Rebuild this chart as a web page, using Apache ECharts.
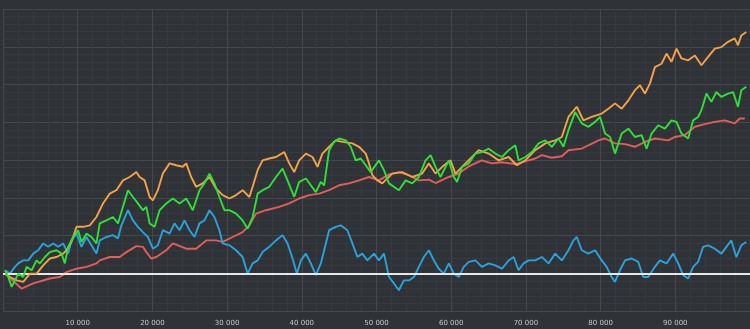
<!DOCTYPE html>
<html>
<head>
<meta charset="utf-8">
<script src="https://cdn.jsdelivr.net/npm/echarts@6/dist/echarts.min.js"></script>
<style>
html,body{margin:0;padding:0;background:#2f3236;}
#c{width:750px;height:329px;}
</style>
</head>
<body>
<div id="c"></div>
<script>
// x in thousands of samples, y in grid units
const xTicks = [10, 20, 30, 40, 50, 60, 70, 80, 90];

const redPts = [[0.27,-0.01],[2.50,-0.41],[4.05,-0.27],[6.27,-0.14],[7.61,-0.10],[8.50,0.03],[9.84,0.12],[11.17,0.17],[12.51,0.26],[12.95,0.34],[14.29,0.43],[15.62,0.43],[16.52,0.56],[17.85,0.72],[18.73,0.70],[19.19,0.56],[19.85,0.39],[20.52,0.43],[21.86,0.61],[22.74,0.79],[24.53,0.65],[25.86,0.65],[27.20,0.87],[28.53,0.87],[29.41,0.83],[30.75,0.96],[32.08,1.09],[32.98,1.27],[33.87,1.58],[35.21,1.67],[36.98,1.76],[38.32,1.85],[39.65,1.98],[40.99,2.07],[42.32,2.11],[43.66,2.20],[44.99,2.33],[46.33,2.38],[47.66,2.46],[49.00,2.55],[50.33,2.46],[51.67,2.62],[53.00,2.68],[54.34,2.60],[55.67,2.46],[57.01,2.48],[57.90,2.39],[59.68,2.55],[61.01,2.64],[62.35,2.83],[64.08,2.99],[65.42,2.91],[66.76,2.94],[68.58,2.89],[70.36,2.99],[71.25,3.04],[72.14,3.13],[73.47,3.06],[74.81,3.10],[75.70,3.26],[77.48,3.30],[78.37,3.39],[79.71,3.52],[80.60,3.57],[81.93,3.44],[83.27,3.42],[84.60,3.35],[85.94,3.48],[87.27,3.57],[89.05,3.52],[89.95,3.61],[91.28,3.66],[92.62,3.88],[93.95,3.95],[95.29,4.01],[96.62,4.05],[97.96,3.97],[98.62,4.10],[99.29,4.10]];

const bluePts = [[0.27,0.08],[0.93,-0.01],[1.60,0.17],[2.04,0.26],[2.71,0.34],[3.38,0.34],[4.05,0.52],[4.71,0.61],[5.38,0.79],[6.05,0.70],[6.72,0.79],[7.38,0.70],[8.05,0.79],[8.72,0.52],[9.17,0.87],[9.84,1.05],[10.51,0.70],[11.17,0.96],[11.84,0.74],[12.51,0.52],[12.95,0.87],[13.84,0.96],[14.73,1.01],[15.39,0.92],[15.85,1.27],[16.73,1.67],[17.40,1.40],[18.06,1.23],[18.73,1.09],[19.40,0.96],[20.07,0.65],[20.73,0.74],[21.40,1.14],[22.30,1.05],[22.96,1.32],[23.63,1.14],[24.30,1.40],[24.97,1.14],[25.63,0.96],[26.30,1.32],[26.97,1.40],[27.64,1.67],[28.30,1.49],[28.97,1.14],[29.41,0.79],[30.31,0.74],[31.20,0.61],[32.08,0.43],[32.75,-0.01],[33.42,0.26],[34.09,0.34],[34.75,0.56],[35.65,0.70],[36.54,0.87],[37.42,1.01],[38.09,0.79],[38.76,0.39],[39.34,-0.01],[39.88,0.34],[40.55,0.52],[41.21,0.26],[41.88,-0.05],[42.55,0.26],[43.22,0.79],[43.66,1.14],[44.55,1.23],[45.22,1.27],[46.10,1.14],[46.77,0.79],[47.44,0.43],[48.10,0.52],[48.77,0.34],[49.67,0.52],[50.33,0.34],[51.00,0.52],[51.67,-0.10],[52.34,-0.27],[53.00,-0.45],[53.67,-0.19],[54.34,-0.19],[55.01,-0.10],[55.67,0.17],[56.34,0.43],[57.01,0.61],[57.68,0.34],[58.34,0.12],[59.01,-0.01],[59.68,0.26],[60.35,-0.01],[61.01,-0.10],[61.68,0.17],[62.35,0.30],[63.24,0.34],[64.12,0.17],[65.02,0.26],[65.91,0.21],[66.80,0.12],[67.69,0.34],[68.36,0.43],[69.02,0.08],[69.69,0.26],[70.36,0.34],[71.25,0.34],[72.14,0.43],[73.03,0.26],[73.92,0.52],[74.81,0.34],[75.70,0.61],[76.37,0.87],[76.81,0.96],[77.48,0.61],[78.37,0.52],[79.26,0.61],[80.15,0.34],[80.81,0.17],[81.48,-0.10],[81.93,-0.23],[82.60,0.08],[83.27,0.34],[84.15,0.39],[85.04,0.30],[85.71,-0.10],[86.38,-0.10],[87.27,0.17],[87.94,0.34],[88.82,0.26],[89.72,0.52],[90.39,0.26],[91.05,-0.05],[91.72,-0.14],[92.39,0.17],[93.05,0.30],[93.72,0.70],[94.39,0.74],[95.29,0.65],[96.17,0.52],[96.84,0.70],[97.50,0.87],[98.17,0.43],[98.84,0.74],[99.50,0.83]];

const orangePts = [[0.27,-0.01],[0.93,-0.10],[1.83,-0.19],[2.71,-0.23],[3.60,-0.01],[4.50,-0.01],[5.38,0.21],[6.27,0.39],[7.17,0.43],[8.05,0.52],[8.50,0.61],[9.17,0.83],[9.84,1.23],[10.72,1.23],[11.62,1.27],[12.51,1.49],[13.39,1.85],[14.29,2.11],[15.18,2.20],[16.06,2.46],[16.96,2.55],[17.85,2.68],[18.29,2.55],[18.96,2.46],[19.63,2.02],[20.07,1.93],[20.73,2.20],[21.40,2.64],[22.30,2.91],[23.19,2.86],[24.07,2.82],[24.53,2.91],[25.19,2.55],[25.86,2.29],[26.74,2.38],[27.64,2.55],[28.53,2.24],[29.41,2.07],[30.31,1.98],[31.20,2.07],[32.08,2.20],[32.98,2.02],[33.42,2.29],[34.09,2.73],[34.75,2.99],[35.65,3.04],[36.54,3.08],[37.65,3.21],[38.32,2.91],[38.98,2.68],[39.65,2.99],[40.55,3.17],[41.43,3.08],[42.10,2.82],[42.76,3.17],[43.66,3.35],[44.55,3.52],[45.43,3.48],[46.77,3.44],[47.66,3.35],[48.56,3.17],[49.00,2.91],[49.44,2.60],[50.11,2.46],[50.77,2.38],[52.11,2.64],[53.44,2.68],[54.78,2.55],[56.11,2.64],[57.01,2.91],[57.90,2.64],[58.79,2.82],[59.91,2.99],[60.57,2.64],[61.91,2.91],[62.79,3.08],[63.68,3.26],[65.02,3.17],[66.35,2.99],[67.69,3.08],[68.80,2.86],[69.92,2.99],[71.25,3.26],[72.59,3.44],[73.92,3.52],[74.81,3.61],[75.70,4.14],[76.81,4.41],[77.70,4.05],[78.81,4.14],[80.15,4.23],[81.04,4.36],[81.93,4.50],[82.82,4.36],[83.72,4.58],[84.60,4.85],[85.27,4.98],[85.94,4.76],[86.61,5.03],[87.27,5.46],[88.16,5.55],[88.82,5.82],[89.49,5.60],[90.16,5.95],[90.83,5.69],[91.72,5.64],[92.62,5.77],[93.50,5.51],[94.39,5.73],[95.29,5.95],[96.17,5.99],[97.06,6.13],[97.95,6.22],[98.39,6.04],[98.84,6.30],[99.50,6.39]];

const greenPts = [[0.27,0.08],[0.71,-0.10],[1.16,-0.36],[1.60,-0.19],[2.04,-0.01],[2.71,-0.10],[3.16,0.17],[3.83,0.08],[4.50,0.34],[4.94,0.26],[5.61,0.43],[6.27,0.56],[7.17,0.61],[7.84,0.52],[8.28,0.26],[8.72,0.70],[9.39,0.96],[10.05,1.14],[10.51,0.83],[11.17,1.05],[11.84,0.96],[12.51,0.79],[12.95,1.32],[13.84,1.40],[14.73,1.49],[15.39,1.32],[16.06,1.76],[16.73,2.20],[17.40,2.02],[18.06,1.85],[18.73,1.67],[19.19,1.76],[19.63,1.32],[20.29,1.23],[20.96,1.67],[21.86,1.85],[22.74,1.98],[23.63,1.85],[24.53,1.98],[25.41,1.67],[26.30,2.20],[26.97,2.38],[27.64,2.64],[28.30,2.38],[28.97,2.02],[29.64,1.67],[30.31,1.67],[31.20,1.58],[32.08,1.40],[32.75,1.18],[33.42,1.49],[34.09,2.11],[34.75,2.20],[35.65,2.29],[36.54,2.55],[37.42,2.77],[38.09,2.46],[38.98,2.02],[39.65,2.42],[40.55,2.51],[41.21,2.33],[41.88,2.15],[42.55,2.42],[42.99,2.33],[43.66,3.26],[44.32,3.48],[44.99,3.57],[45.89,3.52],[46.55,3.35],[47.22,2.99],[47.89,3.04],[48.56,2.86],[49.22,2.68],[50.33,2.99],[51.00,2.73],[51.67,2.38],[53.00,2.20],[53.90,2.46],[54.78,2.38],[55.67,2.55],[56.57,2.99],[57.24,3.13],[57.90,2.82],[58.57,2.55],[59.68,2.99],[60.35,2.55],[60.79,2.42],[61.46,2.82],[62.35,2.91],[63.24,3.17],[64.12,3.21],[65.02,3.30],[65.91,3.17],[66.80,3.08],[67.69,3.26],[68.58,3.39],[69.02,2.99],[69.92,3.08],[70.80,3.21],[71.70,3.44],[72.59,3.52],[73.47,3.35],[74.37,3.57],[75.03,3.35],[75.70,3.79],[76.59,4.27],[77.48,3.97],[78.37,3.88],[79.26,4.01],[79.93,4.14],[80.60,3.70],[81.27,3.61],[81.93,3.17],[82.82,3.70],[83.72,3.83],[84.60,3.61],[85.49,3.66],[86.16,3.30],[86.82,3.70],[87.72,3.92],[88.61,3.83],[89.49,4.05],[90.16,4.01],[90.83,3.70],[91.72,3.57],[92.39,4.05],[93.05,4.14],[93.50,4.32],[94.17,4.76],[94.83,4.54],[95.50,4.80],[96.17,4.67],[97.06,4.76],[97.73,4.80],[98.39,4.41],[98.84,4.85],[99.50,4.94]];

const seriesNames = ['Red', 'Blue', 'Orange', 'Green'];
const seriesColors = ['#e35d5d', '#2aa3dc', '#f3a24a', '#2fe03a'];
const seriesData = [redPts, bluePts, orangePts, greenPts];

function fmt(v) {
  return String(Math.round(v * 1000)).replace(/\B(?=(\d{3})+(?!\d))/g, ' ');
}

const chart = echarts.init(document.getElementById('c'), null, {renderer: 'canvas'});
const series = seriesData.map((d, i) => ({
  name: seriesNames[i],
  type: 'line',
  data: d,
  showSymbol: false,
  symbol: 'none',
  lineStyle: {color: seriesColors[i], width: 1.9},
  itemStyle: {color: seriesColors[i]},
  z: 3 + i,
  silent: true
}));
series.push({
  name: 'zero',
  type: 'line',
  data: [],
  z: 10,
  markLine: {
    silent: true,
    symbol: 'none',
    label: {show: false},
    lineStyle: {color: '#e8e8e8', width: 2, type: 'solid'},
    data: [{yAxis: 0}]
  }
});

chart.setOption({
  animation: false,
  backgroundColor: '#2f3236',
  grid: {left: 3, top: 9, width: 749, height: 302, containLabel: false},
  xAxis: {
    type: 'value',
    min: 0,
    max: 100,
    interval: 10,
    axisLine: {show: false},
    axisTick: {show: false},
    axisLabel: {
      show: true,
      color: '#c4c6c8',
      fontSize: 7,
      fontFamily: 'DejaVu Sans',
      margin: 9,
      showMinLabel: false,
      showMaxLabel: false,
      formatter: v => xTicks.indexOf(v) >= 0 ? fmt(v) : ''
    },
    splitLine: {show: true, lineStyle: {color: '#45494e', width: 1}},
    minorTick: {show: false, splitNumber: 5},
    minorSplitLine: {show: true, lineStyle: {color: '#36393d', width: 1}}
  },
  yAxis: {
    type: 'value',
    min: -1,
    max: 7,
    interval: 1,
    axisLine: {show: false},
    axisTick: {show: false},
    axisLabel: {show: false},
    splitLine: {show: true, lineStyle: {color: '#45494e', width: 1}},
    minorTick: {show: false, splitNumber: 5},
    minorSplitLine: {show: true, lineStyle: {color: '#36393d', width: 1}}
  },
  series: series
});
</script>
</body>
</html>
